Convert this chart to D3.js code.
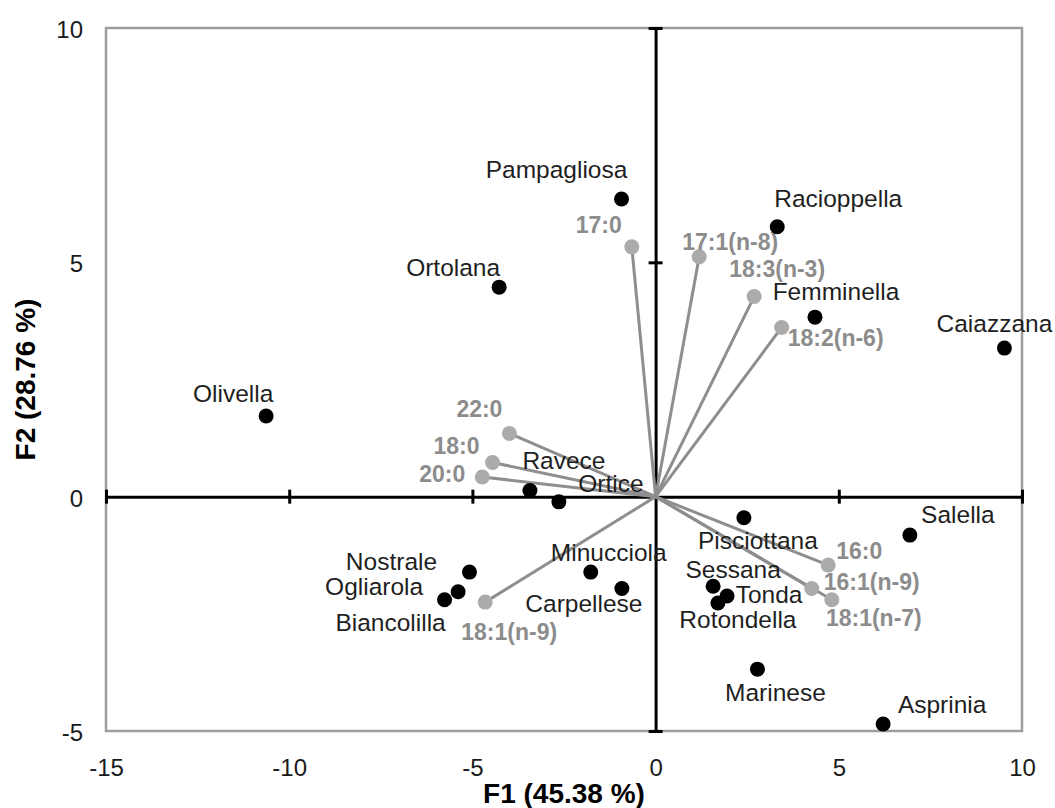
<!DOCTYPE html>
<html>
<head>
<meta charset="utf-8">
<script src="https://cdn.jsdelivr.net/npm/d3@7"></script>
<style>
	body { margin: 0; background: #fff; }
	text { font-family: "Liberation Sans", Arial, sans-serif; }
</style>
</head>
<body>
<div id="container"></div>
<script>
const width = 1055;
const height = 808;

// observations (cultivars)
const cultivars = ["Pampagliosa", "Racioppella", "Ortolana", "Femminella", "Caiazzana", "Olivella",
	"Ravece", "Ortice", "Pisciottana", "Salella", "Nostrale", "Ogliarola", "Biancolilla",
	"Minucciola", "Carpellese", "Sessana", "Tonda", "Rotondella", "Marinese", "Asprinia"];
const cultF1 = [-0.93, 3.32, -4.27, 4.35, 9.52, -10.63, -3.43, -2.64, 2.41, 6.94, -5.08, -5.39, -5.76,
	-1.77, -0.92, 1.57, 1.95, 1.70, 2.78, 6.21];
const cultF2 = [6.35, 5.76, 4.47, 3.83, 3.17, 1.72, 0.13, -0.11, -0.45, -0.82, -1.61, -2.03, -2.20,
	-1.61, -1.96, -1.91, -2.12, -2.27, -3.68, -4.85];

// variables (fatty acids)
const acids = ["17:0", "17:1(n-8)", "18:3(n-3)", "18:2(n-6)", "22:0", "18:0", "20:0", "18:1(n-9)",
	"16:0", "16:1(n-9)", "18:1(n-7)"];
const acidF1 = [-0.65, 1.19, 2.69, 3.44, -3.99, -4.45, -4.73, -4.65, 4.71, 4.26, 4.81];
const acidF2 = [5.33, 5.12, 4.27, 3.61, 1.35, 0.73, 0.42, -2.25, -1.46, -1.96, -2.20];

const xTicks = [-15, -10, -5, 0, 5, 10];
const yTicks = [-5, 0, 5, 10];

// label placement in pixels [dx, dy] from the mark (text centre / baseline)
const cultLabelPos = [[-65, -21], [61, -20], [-46, -11], [21, -17], [-10, -16], [-33, -14],
	[34, -22], [52, -10], [14, 31], [48, -12], [-78, -2], [-84, 3], [-54, 31],
	[18, -11], [-38, 23], [20, -8], [42, 7], [20, 25], [18, 32], [59, -11]];
const acidLabelPos = [[-33, -14], [31, -7], [23, -20], [54, 19], [-30, -16], [-36, -8], [-40, 5],
	[24, 38], [31, -6], [60, 1], [42, 26]];

const margin = {top: 28, right: 33, bottom: 77, left: 106};

const x = d3.scaleLinear().domain([-15, 10]).range([margin.left, width - margin.right]);
const y = d3.scaleLinear().domain([-5, 10]).range([height - margin.bottom, margin.top]);

let svg = d3.select("#container")
	.append("svg")
	.attr("width", width)
	.attr("height", height);

// plot frame
svg.append("rect")
	.attr("x", x(-15))
	.attr("y", y(10))
	.attr("width", x(10) - x(-15))
	.attr("height", y(-5) - y(10))
	.attr("fill", "none")
	.attr("stroke", "#9d9d9d")
	.attr("stroke-width", 2.5);

// plain hyphen minus, like the original
const fmt = d => String(d);

// tick labels outside the frame
svg.append("g")
	.attr("transform", "translate(0," + y(-5) + ")")
	.call(d3.axisBottom(x).tickValues(xTicks).tickSize(0).tickPadding(28).tickFormat(fmt))
	.call(g => g.select(".domain").remove())
	.selectAll("text")
	.attr("font-size", 24)
	.attr("font-family", "Liberation Sans, Arial, sans-serif")
	.attr("fill", "#1a1a1a");

svg.append("g")
	.attr("transform", "translate(" + x(-15) + ",0)")
	.call(d3.axisLeft(y).tickValues(yTicks).tickSize(0).tickPadding(23).tickFormat(fmt))
	.call(g => g.select(".domain").remove())
	.selectAll("text")
	.attr("font-size", 24)
	.attr("font-family", "Liberation Sans, Arial, sans-serif")
	.attr("fill", "#1a1a1a")
	.attr("dy", "0.4em");

// zero axes with crossing ticks
let zeroX = svg.append("g")
	.attr("transform", "translate(0," + y(0) + ")")
	.call(d3.axisBottom(x).tickValues(xTicks.filter(d => d !== 0)).tickSizeOuter(0).tickFormat(""));
zeroX.selectAll(".tick line").attr("y1", -7).attr("y2", 7);

let zeroY = svg.append("g")
	.attr("transform", "translate(" + x(0) + ",0)")
	.call(d3.axisLeft(y).tickValues(yTicks.filter(d => d !== 0)).tickSizeOuter(0).tickFormat(""));
zeroY.selectAll(".tick line").attr("x1", -7).attr("x2", 7);

svg.selectAll(".domain, .tick line")
	.attr("stroke", "#000")
	.attr("stroke-width", 3);

// vectors
const acidData = acids.map((d, i) => ({name: d, f1: acidF1[i], f2: acidF2[i], pos: acidLabelPos[i]}));
const cultData = cultivars.map((d, i) => ({name: d, f1: cultF1[i], f2: cultF2[i], pos: cultLabelPos[i]}));

svg.append("g").selectAll("line")
	.data(acidData)
	.enter()
	.append("line")
	.attr("x1", x(0))
	.attr("y1", y(0))
	.attr("x2", d => x(d.f1))
	.attr("y2", d => y(d.f2))
	.attr("stroke", "#8e8e8e")
	.attr("stroke-width", 3);

svg.append("g").selectAll("circle")
	.data(acidData)
	.enter()
	.append("circle")
	.attr("cx", d => x(d.f1))
	.attr("cy", d => y(d.f2))
	.attr("r", 7.5)
	.attr("fill", "#ababab");

svg.append("g").selectAll("text")
	.data(acidData)
	.enter()
	.append("text")
	.attr("x", d => x(d.f1) + d.pos[0])
	.attr("y", d => y(d.f2) + d.pos[1])
	.attr("text-anchor", "middle")
	.attr("font-size", 23)
	.attr("font-weight", "bold")
	.attr("fill", "#8c8c8c")
	.text(d => d.name);

// cultivars
svg.append("g").selectAll("circle")
	.data(cultData)
	.enter()
	.append("circle")
	.attr("cx", d => x(d.f1))
	.attr("cy", d => y(d.f2))
	.attr("r", 7.5)
	.attr("fill", "#000");

svg.append("g").selectAll("text")
	.data(cultData)
	.enter()
	.append("text")
	.attr("x", d => x(d.f1) + d.pos[0])
	.attr("y", d => y(d.f2) + d.pos[1])
	.attr("text-anchor", "middle")
	.attr("font-size", 24.5)
	.attr("fill", "#1f1f1f")
	.text(d => d.name);

// axis titles
svg.append("text")
	.attr("x", (x(-15) + x(10)) / 2)
	.attr("y", 803)
	.attr("text-anchor", "middle")
	.attr("font-size", 28)
	.attr("font-weight", "bold")
	.text("F1 (45.38 %)");

svg.append("text")
	.attr("transform", "translate(35," + (y(-5) + y(10)) / 2 + ") rotate(-90)")
	.attr("text-anchor", "middle")
	.attr("font-size", 28)
	.attr("font-weight", "bold")
	.text("F2 (28.76 %)");
</script>
</body>
</html>
